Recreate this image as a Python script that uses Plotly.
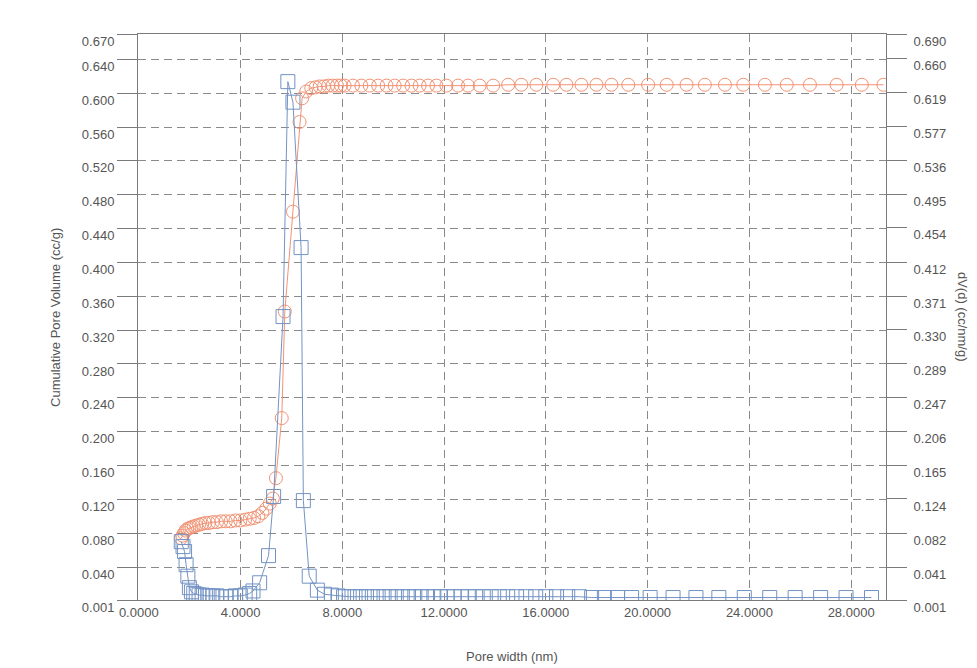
import plotly.graph_objects as go

# ---------------- data ----------------
cum_x = [1.67, 1.72, 1.78, 1.84, 1.91, 1.99, 2.07, 2.16, 2.26, 2.37, 2.49, 2.62, 2.76, 2.91,
         3.07, 3.24, 3.42, 3.61, 3.80, 3.99, 4.18, 4.36, 4.53, 4.70, 4.86, 5.01, 5.15, 5.27,
         5.39, 5.62, 5.74, 6.06, 6.32, 6.42, 6.58, 6.78, 6.95, 7.11, 7.28, 7.45, 7.62, 7.79,
         7.95, 8.09, 8.42, 8.75, 9.08, 9.41, 9.74, 10.06, 10.39, 10.72, 11.04, 11.37, 11.70,
         12.09, 12.55, 12.94, 13.40, 13.93, 14.52, 15.04, 15.63, 16.29, 16.81, 17.40, 17.99,
         18.58, 19.24, 20.02, 20.75, 21.53, 22.25, 23.04, 23.76, 24.61, 25.47, 26.38, 27.43,
         28.42, 29.27]
cum_v = [0.074, 0.077, 0.080, 0.083, 0.085, 0.086, 0.087, 0.088, 0.089, 0.090, 0.091, 0.092,
         0.092, 0.093, 0.093, 0.094, 0.094, 0.094, 0.095, 0.095, 0.096, 0.097, 0.098, 0.100,
         0.104, 0.109, 0.115, 0.121, 0.145, 0.216, 0.342, 0.460, 0.566, 0.594, 0.602, 0.606,
         0.607, 0.608, 0.608, 0.609, 0.609, 0.609, 0.609, 0.609, 0.609, 0.609, 0.609, 0.609,
         0.609, 0.609, 0.609, 0.609, 0.609, 0.609, 0.609, 0.609, 0.609, 0.609, 0.609, 0.609,
         0.610, 0.610, 0.610, 0.610, 0.610, 0.610, 0.610, 0.610, 0.610, 0.610, 0.610, 0.610,
         0.610, 0.610, 0.610, 0.610, 0.610, 0.610, 0.610, 0.610, 0.610]

dv_x = [1.67, 1.74, 1.80, 1.86, 1.93, 1.99, 2.07, 2.16, 2.26, 2.37, 2.49, 2.62, 2.76, 2.91,
        3.07, 3.24, 3.42, 3.61, 3.80, 3.99, 4.18, 4.36, 4.49, 4.75, 5.10, 5.30, 5.67, 5.86,
        6.06, 6.38, 6.47, 6.70, 7.02, 7.30, 7.57, 7.83, 8.05, 8.27, 8.50, 8.72, 8.95, 9.18,
        9.41, 9.64, 9.88, 10.12, 10.36, 10.60, 10.85, 11.10, 11.35, 11.60, 11.86, 12.12,
        12.39, 12.67, 12.95, 13.24, 13.54, 13.85, 14.17, 14.50, 14.85, 15.22, 15.60, 16.00,
        16.42, 16.86, 17.32, 17.80, 18.30, 18.82, 19.37, 20.10, 21.00, 21.90, 22.80, 23.80,
        24.80, 25.80, 26.80, 27.80, 28.80]
dv_v = [0.072, 0.066, 0.060, 0.044, 0.030, 0.016, 0.011, 0.009, 0.008, 0.007, 0.007, 0.006,
        0.006, 0.006, 0.006, 0.005, 0.005, 0.005, 0.006, 0.006, 0.007, 0.009, 0.012, 0.022,
        0.055, 0.127, 0.346, 0.632, 0.607, 0.430, 0.122, 0.030, 0.013, 0.008, 0.007, 0.006,
        0.005, 0.005, 0.005, 0.005, 0.005, 0.005, 0.005, 0.005, 0.005, 0.005, 0.005, 0.005,
        0.005, 0.005, 0.005, 0.005, 0.005, 0.005, 0.005, 0.005, 0.005, 0.005, 0.005, 0.005,
        0.005, 0.005, 0.005, 0.005, 0.005, 0.005, 0.005, 0.005, 0.005, 0.004, 0.004, 0.004,
        0.004, 0.004, 0.004, 0.004, 0.004, 0.004, 0.004, 0.004, 0.004, 0.004, 0.004]

x_ticks = [0, 4, 8, 12, 16, 20, 24, 28]
x_tick_text = ["0.0000", "4.0000", "8.0000", "12.0000", "16.0000", "20.0000", "24.0000", "28.0000"]
left_ticks = [0.001, 0.040, 0.080, 0.120, 0.160, 0.200, 0.240, 0.280, 0.320, 0.360, 0.400,
              0.440, 0.480, 0.520, 0.560, 0.600, 0.640, 0.670]
right_ticks = [0.001, 0.041, 0.082, 0.124, 0.165, 0.206, 0.247, 0.289, 0.330, 0.371, 0.412,
               0.454, 0.495, 0.536, 0.577, 0.619, 0.660, 0.690]

x_title = "Pore width (nm)"
left_title = "Cumulative Pore Volume (cc/g)"
right_title = "dV(d) (cc/nm/g)"

# ---------------- figure ----------------
ORANGE = "#f29274"
BLUE = "#7393c4"
TXT = "#555555"
GRID = "#8a8a8a"
AX = "#7a7a7a"
FONT = "Liberation Sans, Arial, sans-serif"

fig = go.Figure()
fig.add_trace(go.Scatter(
    x=cum_x, y=cum_v, mode="lines+markers", yaxis="y",
    line=dict(color=ORANGE, width=1),
    marker=dict(symbol="circle-open", size=13, color=ORANGE, line=dict(width=1)),
    showlegend=False, name=left_title))
fig.add_trace(go.Scatter(
    x=dv_x, y=dv_v, mode="lines+markers", yaxis="y2",
    line=dict(color=BLUE, width=1),
    marker=dict(symbol="square-open", size=14, color=BLUE, line=dict(width=1)),
    showlegend=False, name=right_title))

fig.update_layout(
    width=977, height=668,
    margin=dict(l=138, r=91, t=34, b=68),
    paper_bgcolor="white", plot_bgcolor="white",
    font=dict(family=FONT, size=13, color=TXT),
    xaxis=dict(range=[-0.03, 29.37], tickvals=x_ticks, ticktext=x_tick_text,
               showgrid=True, gridcolor=GRID, gridwidth=1, griddash="8px,5px",
               showline=True, linecolor=AX, linewidth=1, mirror=True,
               ticks="", zeroline=False, tickfont=dict(size=13, color=TXT)),
    yaxis=dict(range=[0.001, 0.670], tickvals=left_ticks,
               ticktext=[f"{v:.3f}" for v in left_ticks],
               showgrid=True, gridcolor=GRID, gridwidth=1, griddash="8px,5px",
               showline=True, linecolor=AX, linewidth=1,
               ticks="outside", ticklen=20, tickcolor=AX, ticklabelshift=7,
               zeroline=False, tickfont=dict(size=13, color=TXT)),
    yaxis2=dict(range=[0.001, 0.690], tickvals=right_ticks,
                ticktext=[f"{v:.3f}" for v in right_ticks],
                overlaying="y", side="right", showgrid=False,
                showline=True, linecolor=AX, linewidth=1,
                ticks="outside", ticklen=20, tickcolor=AX, ticklabelshift=7,
                ticklabelstandoff=4,
                zeroline=False, tickfont=dict(size=13, color=TXT)),
    annotations=[
        dict(text=x_title, xref="paper", yref="paper", x=0.5, y=-0.099,
             showarrow=False, xanchor="center", yanchor="middle",
             font=dict(size=13, color=TXT)),
        dict(text=left_title, xref="paper", yref="paper", x=-0.111, y=0.5,
             showarrow=False, textangle=-90, xanchor="center", yanchor="middle",
             font=dict(size=13, color=TXT)),
        dict(text=right_title, xref="paper", yref="paper", x=1.103, y=0.5,
             showarrow=False, textangle=90, xanchor="center", yanchor="middle",
             font=dict(size=13, color=TXT)),
    ],
)

fig.write_html("out.html", config={"displayModeBar": False},
               post_script="document.body.style.margin='0px';document.body.style.overflow='hidden';")
